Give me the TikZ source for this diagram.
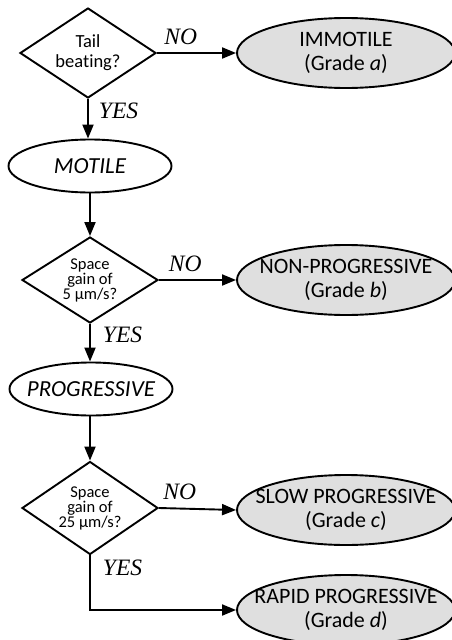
\documentclass[tikz,border=0pt]{standalone}
\usepackage{fontspec}
\setmainfont{Liberation Serif}
\setsansfont[Ligatures=CommonOff]{Carlito}
\usetikzlibrary{shapes.geometric,arrows.meta,calc}
\begin{document}
\begin{tikzpicture}[x=1pt,y=-1pt,
  dec/.style={draw, line width=1.9pt, shape=diamond, aspect=1.51, inner sep=0pt,
    minimum width=136pt, align=center},
  dsmall/.style={font=\sffamily\fontsize{16.5}{15}\selectfont},
  dbig/.style={font=\sffamily\fontsize{18.5}{20}\selectfont},
  state/.style={draw, line width=1.9pt, shape=ellipse, inner sep=0pt,
    minimum width=163pt, minimum height=53pt},
  grade/.style={draw, line width=1.9pt, shape=ellipse, inner sep=0pt,
    fill=gray!25, minimum width=218pt, minimum height=70pt},
  stxt/.style={font=\sffamily\itshape\fontsize{23}{25}\selectfont},
  gtxt/.style={font=\sffamily\fontsize{22}{24}\selectfont, align=center},
  arr/.style={line width=1.9pt, -{Triangle[length=14pt,width=11pt]}},
  lbl/.style={font=\itshape\fontsize{23.5}{25}\selectfont, inner sep=0pt}
]
\useasboundingbox (0,0) rectangle (452,640);

% decisions
\node[dec, dbig, minimum height=90pt] (d1) at (88,53) {Tail\\beating?};
\node[dec, dsmall, minimum height=86pt] (d2) at (90,280) {Space\\gain of\\5 µm/s?};
\node[dec, dsmall, minimum height=93pt] (d3) at (90,508) {Space\\gain of\\25 µm/s?};

% intermediate states
\node[state, label={[stxt]center:MOTILE}] (mot) at (90,166) {};
\node[state, label={[stxt]center:PROGRESSIVE}] (prog) at (91,389) {};

% grades
\node[grade, label={[gtxt]center:IMMOTILE\\(Grade \textit{a})}] (imm) at (346,53) {};
\node[grade, label={[gtxt]center:NON-PROGRESSIVE\\(Grade \textit{b})}] (nonp) at (346,280) {};
\node[grade, label={[gtxt]center:SLOW PROGRESSIVE\\(Grade \textit{c})}] (slow) at (346,510) {};
\node[grade, label={[gtxt]center:RAPID PROGRESSIVE\\(Grade \textit{d})}] (rapid) at (346,610) {};

% connectors
\draw[arr] (d1.east) -- (imm.west) node[lbl, above=7pt, pos=0.3] {NO};
\draw[arr] (d1.south) -- (d1.south |- mot.north) node[lbl, right=10pt, pos=0.3] {YES};
\draw[arr] (mot.south) -- (d2.north);
\draw[arr] (d2.east) -- (nonp.west) node[lbl, above=7pt, pos=0.34] {NO};
\draw[arr] (d2.south) -- (prog.north -| d2.south) node[lbl, right=12pt, pos=0.28] {YES};
\draw[arr] (prog.south -| d3.north) -- (d3.north);
\draw[arr] (d3.east) -- (slow.west) node[lbl, above=8pt, pos=0.27] {NO};
\draw[arr] (d3.south) |- (rapid.west) node[lbl, right=12pt, pos=0.11] {YES};
\end{tikzpicture}
\end{document}
